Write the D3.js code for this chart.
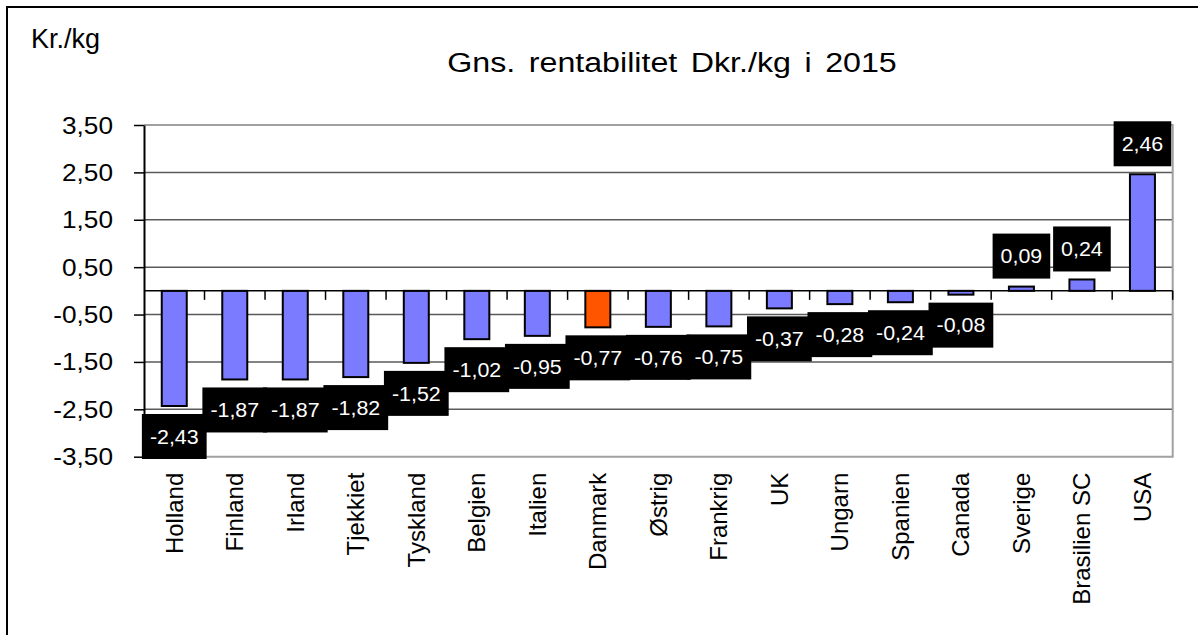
<!DOCTYPE html>
<html>
<head>
<meta charset="utf-8">
<script src="https://cdn.jsdelivr.net/npm/d3@7"></script>
<style>
  body { margin: 0; background: #fff; }
  svg { display: block; font-family: "Liberation Sans", Arial, sans-serif; }
</style>
</head>
<body>
<div id="chart"></div>
<script>
// data
const countries = ["Holland", "Finland", "Irland", "Tjekkiet", "Tyskland", "Belgien", "Italien",
  "Danmark", "Østrig", "Frankrig", "UK", "Ungarn", "Spanien", "Canada", "Sverige", "Brasilien SC", "USA"];
const values = [-2.43, -1.87, -1.87, -1.82, -1.52, -1.02, -0.95, -0.77, -0.76, -0.75,
  -0.37, -0.28, -0.24, -0.08, 0.09, 0.24, 2.46];
const yTicks = [3.5, 2.5, 1.5, 0.5, -0.5, -1.5, -2.5, -3.5];
const highlight = "Danmark";

const width = 1198, height = 635;
const margin = { top: 125, right: 25.3, bottom: 178.3, left: 144 };
const innerW = width - margin.left - margin.right;
const innerH = height - margin.top - margin.bottom;

const locale = d3.formatLocale({ decimal: ",", thousands: ".", grouping: [3], currency: ["", " kr."], minus: "-" });
const fmt = locale.format(".2f");

const svg = d3.select("#chart").append("svg")
  .attr("width", width)
  .attr("height", height);

// outer frame (runs off the right and bottom edges)
svg.append("rect")
  .attr("x", 7).attr("y", 7)
  .attr("width", 1400).attr("height", 800)
  .attr("fill", "none").attr("stroke", "#000").attr("stroke-width", 2);

svg.append("text")
  .attr("x", 31).attr("y", 48)
  .style("font-size", "27px")
  .text("Kr./kg");

svg.append("text")
  .attr("transform", "translate(672,72) scale(1.15,1)")
  .attr("text-anchor", "middle")
  .style("font-size", "28px")
  .style("word-spacing", "4px")
  .text("Gns. rentabilitet Dkr./kg i 2015");

const g = svg.append("g")
  .attr("transform", "translate(" + margin.left + "," + margin.top + ")");

const x = d3.scaleBand()
  .domain(countries)
  .range([0, innerW])
  .padding(0);

const y = d3.scaleLinear()
  .domain([-3.5, 3.5])
  .range([innerH, 0]);

// gridlines
g.selectAll(".grid")
  .data(yTicks.filter(d => d !== 3.5 && d !== -3.5))
  .enter().append("line")
  .attr("x1", 0).attr("x2", innerW)
  .attr("y1", d => y(d)).attr("y2", d => y(d))
  .attr("stroke", "#5a5a5a").attr("stroke-width", 1.5);

// plot border top/right/bottom
g.append("path")
  .attr("d", "M0," + y(3.5) + "H" + innerW + "V" + y(-3.5) + "H0")
  .attr("fill", "none").attr("stroke", "#a0a0a0").attr("stroke-width", 2);

// y axis
const yAxis = g.append("g")
  .call(d3.axisLeft(y).tickValues(yTicks).tickSize(10).tickSizeOuter(0).tickFormat(fmt));
yAxis.select(".domain").attr("stroke", "#000").attr("stroke-width", 2);
yAxis.selectAll(".tick line").attr("stroke", "#000").attr("stroke-width", 1.5);
yAxis.selectAll(".tick text")
  .attr("x", null).attr("dy", null)
  .attr("text-anchor", "end")
  .attr("fill", "#000")
  .style("font-size", "23px")
  .attr("transform", "translate(-31,8) scale(1.14,1)");

// bars
const barW = 25;
g.selectAll(".bar")
  .data(countries)
  .enter().append("rect")
  .attr("x", d => x(d) + x.bandwidth() / 2 - barW / 2)
  .attr("width", barW)
  .attr("y", (d, i) => y(Math.max(0, values[i])))
  .attr("height", (d, i) => Math.abs(y(values[i]) - y(0)))
  .attr("fill", d => d === highlight ? "#ff5500" : "#7b7bff")
  .attr("stroke", "#000").attr("stroke-width", 2);

// category axis on zero line
const xAxis = g.append("g")
  .attr("transform", "translate(0," + y(0) + ")");
xAxis.append("line")
  .attr("x1", 0).attr("x2", innerW)
  .attr("stroke", "#000").attr("stroke-width", 1.5);
xAxis.selectAll(".tk")
  .data(countries.slice(1).concat(["__end"]))
  .enter().append("line")
  .attr("x1", d => d === "__end" ? innerW : x(d))
  .attr("x2", d => d === "__end" ? innerW : x(d))
  .attr("y1", 0).attr("y2", 9)
  .attr("stroke", "#000").attr("stroke-width", 1.5);

// category labels, rotated, below the plot
g.selectAll(".xlab")
  .data(countries)
  .enter().append("text")
  .attr("transform", d => "translate(" + (x(d) + x.bandwidth() / 2) + "," + (innerH + 16) + ") rotate(-90)")
  .attr("text-anchor", "end")
  .attr("dy", "0.35em")
  .style("font-size", "24px")
  .text(d => d);

// value labels in black boxes
const labels = g.selectAll(".vlab")
  .data(countries)
  .enter().append("g")
  .attr("transform", (d, i) => {
    const cx = x(d) + x.bandwidth() / 2;
    const v = values[i];
    const cy = v < 0 ? y(v) + 8 + 22.5 : y(v) - 8 - 22.5;
    return "translate(" + cx + "," + cy + ")";
  });

labels.append("text")
  .attr("text-anchor", "middle")
  .attr("dy", "0.36em")
  .attr("fill", "#fff")
  .style("font-size", "20px")
  .attr("transform", "scale(1.07,1)")
  .text((d, i) => fmt(values[i]));

labels.each(function () {
  const t = d3.select(this).select("text");
  const w = t.node().getComputedTextLength() * 1.07 + 16;
  d3.select(this).insert("rect", "text")
    .attr("x", -w / 2).attr("y", -22.5)
    .attr("width", w).attr("height", 45)
    .attr("fill", "#000");
});
</script>
</body>
</html>
